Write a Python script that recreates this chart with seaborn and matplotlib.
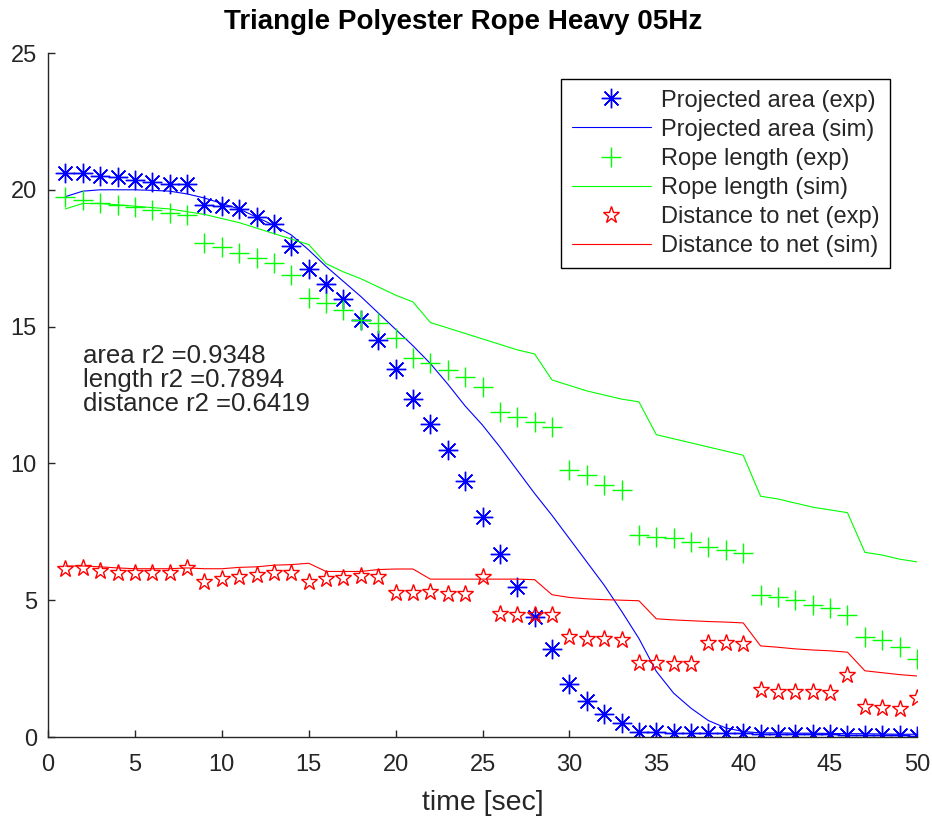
import matplotlib
matplotlib.use("Agg")
import matplotlib.pyplot as plt
import seaborn as sns
import pandas as pd

time = list(range(1, 51))

area_exp = [20.6, 20.6, 20.5, 20.45, 20.35, 20.3, 20.2, 20.2, 19.45, 19.4,
            19.3, 19.0, 18.75, 17.95, 17.1, 16.55, 16.0, 15.25, 14.5, 13.45,
            12.35, 11.45, 10.5, 9.35, 8.05, 6.7, 5.5, 4.4, 3.2, 1.95,
            1.3, 0.85, 0.5, 0.2, 0.17, 0.16, 0.15, 0.15, 0.14, 0.13,
            0.12, 0.12, 0.12, 0.11, 0.1, 0.08, 0.08, 0.07, 0.07, 0.02]
area_sim = [19.75, 19.95, 20.0, 20.0, 20.0, 19.98, 19.95, 19.85, 19.7, 19.5,
            19.3, 19.0, 18.7, 18.35, 17.8, 17.2, 16.65, 16.1, 15.5, 14.9,
            14.3, 13.65, 12.9, 12.1, 11.4, 10.6, 9.75, 8.9, 8.1, 7.25,
            6.4, 5.55, 4.6, 3.6, 2.4, 1.6, 1.05, 0.6, 0.33, 0.2,
            0.15, 0.15, 0.14, 0.14, 0.13, 0.12, 0.12, 0.11, 0.1, 0.1]
length_exp = [19.75, 19.63, 19.52, 19.44, 19.38, 19.26, 19.14, 19.08, 18.06, 17.92,
              17.68, 17.5, 17.31, 16.89, 16.05, 15.87, 15.6, 15.24, 15.13, 14.58,
              13.85, 13.67, 13.41, 13.16, 12.79, 11.88, 11.7, 11.51, 11.33, 9.76,
              9.58, 9.21, 9.03, 7.38, 7.31, 7.28, 7.13, 6.94, 6.83, 6.72,
              5.19, 5.12, 5.01, 4.82, 4.71, 4.46, 3.65, 3.55, 3.29, 2.85]
length_sim = [19.3, 19.5, 19.5, 19.45, 19.4, 19.35, 19.3, 19.2, 19.1, 18.95,
              18.8, 18.6, 18.4, 18.2, 18.0, 17.3, 17.0, 16.75, 16.45, 16.15,
              15.9, 15.15, 14.95, 14.75, 14.55, 14.35, 14.15, 14.0, 13.05, 12.85,
              12.65, 12.5, 12.35, 12.25, 11.05, 10.9, 10.75, 10.6, 10.45, 10.3,
              8.8, 8.7, 8.55, 8.4, 8.3, 8.2, 6.75, 6.65, 6.5, 6.4]
dist_exp = [6.13, 6.17, 6.08, 6.0, 5.98, 5.98, 5.98, 6.17, 5.68, 5.76,
            5.84, 5.92, 5.98, 5.98, 5.68, 5.76, 5.8, 5.88, 5.84, 5.25,
            5.28, 5.3, 5.22, 5.22, 5.85, 4.5, 4.46, 4.46, 4.46, 3.65,
            3.6, 3.6, 3.55, 2.72, 2.7, 2.68, 2.68, 3.45, 3.45, 3.4,
            1.7, 1.65, 1.63, 1.63, 1.6, 2.27, 1.1, 1.07, 1.02, 1.41]
dist_sim = [6.25, 6.25, 6.22, 6.18, 6.15, 6.15, 6.15, 6.18, 6.15, 6.15,
            6.2, 6.22, 6.28, 6.3, 6.35, 6.05, 6.05, 6.05, 6.12, 6.14,
            6.14, 5.77, 5.77, 5.77, 5.77, 5.77, 5.77, 5.75, 5.2, 5.1,
            5.05, 5.02, 5.0, 4.98, 4.32, 4.28, 4.25, 4.22, 4.2, 4.17,
            3.33, 3.28, 3.22, 3.18, 3.15, 3.1, 2.42, 2.35, 2.28, 2.23]

labels = ["Projected area (exp)", "Projected area (sim)",
          "Rope length (exp)", "Rope length (sim)",
          "Distance to net (exp)", "Distance to net (sim)"]
r2_text = "area r2 =0.9348\nlength r2 =0.7894\ndistance r2 =0.6419"
title = "Triangle Polyester Rope Heavy 05Hz"
xlabel = "time [sec]"
xticks = [0, 5, 10, 15, 20, 25, 30, 35, 40, 45, 50]
yticks = [0, 5, 10, 15, 20, 25]

sns.set_style("ticks")
plt.rcParams["font.family"] = ["Liberation Sans", "DejaVu Sans"]

fig = plt.figure(figsize=(9.32, 8.18), dpi=100)
ax = fig.add_axes([48 / 932, 1 - 737 / 818, (917 - 48) / 932, (737 - 53) / 818])

asterisk = (8, 2, 0)
series = [
    (area_exp, "blue", dict(marker=asterisk, markersize=14, linestyle="none",
                            markeredgecolor="blue", markerfacecolor="blue", markeredgewidth=1.0)),
    (area_sim, "blue", dict(linewidth=0.8)),
    (length_exp, "#00ff00", dict(marker="+", markersize=14, linestyle="none",
                                 markeredgecolor="#00ff00", markeredgewidth=1.0)),
    (length_sim, "#00ff00", dict(linewidth=0.8)),
    (dist_exp, "red", dict(marker="*", markersize=12.5, linestyle="none",
                           markeredgecolor="red", markerfacecolor="none", markeredgewidth=1.0)),
    (dist_sim, "red", dict(linewidth=0.8)),
]
for (vals, col, kw), lab in zip(series, labels):
    df = pd.DataFrame({"time": time, "value": vals})
    sns.lineplot(data=df, x="time", y="value", ax=ax, color=col, label=lab,
                 legend=False, **kw)

ax.set_xlim(0, 50)
ax.set_ylim(0, 25)
ax.set_xticks(xticks)
ax.set_yticks(yticks)
sns.despine(ax=ax)
for sp in ["left", "bottom"]:
    ax.spines[sp].set_color("#262626")
    ax.spines[sp].set_linewidth(1.0)
ax.tick_params(axis="both", direction="in", length=5, width=1.0, color="#262626",
               labelcolor="#262626", labelsize=17)
ax.tick_params(axis="x", pad=12)
ax.tick_params(axis="y", pad=8)
ax.set_ylabel("")
ax.set_xlabel(xlabel, fontsize=20.5, color="#262626", labelpad=10)

fig.text(463 / 932, 1 - 22 / 818, title, ha="center", va="center",
         fontsize=20, fontweight="bold", color="black")

ax.text(2, 13.05, r2_text, ha="left", va="center", fontsize=18.5,
        color="#262626", linespacing=0.98)

handles, labs = ax.get_legend_handles_labels()
leg = ax.legend(handles, labs, loc="upper right",
                bbox_to_anchor=((890 - 48) / 869, (737 - 79) / 684),
                fontsize=17, frameon=True, fancybox=False, edgecolor="black",
                framealpha=1, handlelength=3.35, handletextpad=0.42,
                labelspacing=0.3, borderpad=0.45, borderaxespad=0)
leg.get_frame().set_linewidth(1.0)

fig.savefig("out.png", dpi=100)
